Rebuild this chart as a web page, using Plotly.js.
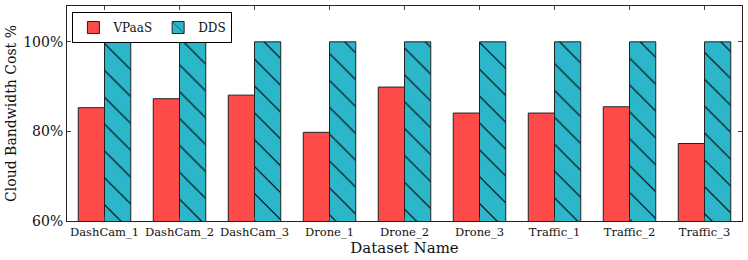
<!DOCTYPE html>
<html>
<head>
<meta charset="utf-8">
<script src="https://cdn.plot.ly/plotly-3.0.1.min.js"></script>
<style>html,body{margin:0;padding:0;background:#fff;}#chart{width:748px;height:260px;}</style>
</head>
<body>
<div id="chart"></div>
<script>
const categories = ["DashCam_1","DashCam_2","DashCam_3","Drone_1","Drone_2","Drone_3","Traffic_1","Traffic_2","Traffic_3"];
const vpaas = [85.3, 87.3, 88.1, 79.8, 89.9, 84.1, 84.1, 85.5, 77.3];
const dds = [100, 100, 100, 100, 100, 100, 100, 100, 100];
const yTicks = [60, 80, 100];
const yTickLabels = ["60%", "80%", "100%"];

const font = "DejaVu Serif, serif";
const traces = [
  {
    type: "bar", name: "VPaaS", x: categories, y: vpaas,
    marker: {color: "#ff4a4a", line: {color: "#222", width: 1}}
  },
  {
    type: "bar", name: "DDS", x: categories, y: dds,
    marker: {color: "#2bb6c9", line: {color: "#222", width: 1},
      pattern: {shape: "\\", fgcolor: "#000", fgopacity: 1, bgcolor: "#2bb6c9", size: 19, solidity: 0.06, fillmode: "overlay"}}
  }
];
const layout = {
  width: 748, height: 260,
  margin: {l: 67, r: 6, t: 6, b: 39},
  paper_bgcolor: "#fff", plot_bgcolor: "#fff",
  barmode: "group", bargap: 0.3, bargroupgap: 0,
  font: {family: font, color: "#111"},
  showlegend: true,
  legend: {
    orientation: "h", x: 0.008, y: 0.972, xanchor: "left", yanchor: "top",
    bordercolor: "#000", borderwidth: 1, bgcolor: "#fff",
    font: {family: font, size: 12, color: "#111"},
    itemwidth: 30, traceorder: "normal"
  },
  xaxis: {
    range: [-0.5, 8.5], showgrid: false, zeroline: false,
    showline: true, linecolor: "#222", linewidth: 1, mirror: "ticks",
    ticks: "inside", ticklen: 4, tickcolor: "#444",
    tickfont: {family: font, size: 11.5, color: "#111"},
    title: {text: "Dataset Name", font: {family: font, size: 15, color: "#111"}, standoff: 4}
  },
  yaxis: {
    range: [60, 108], showgrid: false, zeroline: false,
    showline: true, linecolor: "#222", linewidth: 1, mirror: "ticks",
    ticks: "inside", ticklen: 4, tickcolor: "#444",
    tickvals: yTicks, ticktext: yTickLabels,
    tickfont: {family: font, size: 14, color: "#111"},
    title: {text: "Cloud Bandwidth Cost %", font: {family: font, size: 14, color: "#111"}, standoff: 3}
  }
};
Plotly.newPlot("chart", traces, layout, {staticPlot: true, displayModeBar: false});
</script>
</body>
</html>
